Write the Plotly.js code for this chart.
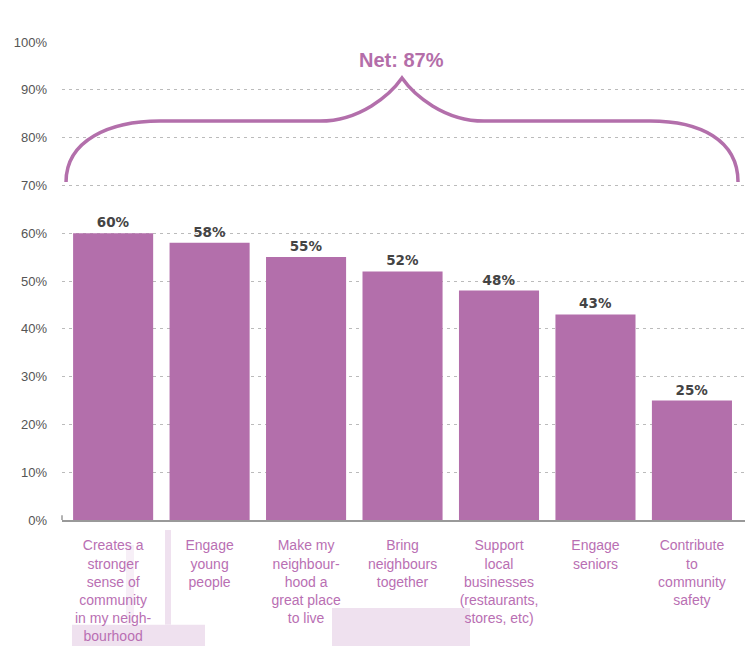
<!DOCTYPE html>
<html>
<head>
<meta charset="utf-8">
<script src="https://cdn.plot.ly/plotly-3.0.1.min.js"></script>
<style>html,body{margin:0;padding:0;background:#fff;}#chart{width:754px;height:646px;}</style>
</head>
<body>
<div id="chart"></div>
<script>
const categories = [
  "Creates a<br>stronger<br>sense of<br>community<br>in my neigh-<br>bourhood",
  "Engage<br>young<br>people",
  "Make my<br>neighbour-<br>hood a<br>great place<br>to live",
  "Bring<br>neighbours<br>together",
  "Support<br>local<br>businesses<br>(restaurants,<br>stores, etc)",
  "Engage<br>seniors",
  "Contribute<br>to<br>community<br>safety"
];
const values = [60, 58, 55, 52, 48, 43, 25];
const netLabel = "Net: 87%";
const yTicks = [0, 10, 20, 30, 40, 50, 60, 70, 80, 90, 100];

const purple = "#b36fab";

const trace = {
  type: "bar",
  x: categories,
  y: values,
  marker: {color: purple},
  text: values.map(v => v + "%"),
  textposition: "outside",
  cliponaxis: false,
  textfont: {family: "DejaVu Sans", size: 13.5, color: "#444", weight: "bold"},
  hoverinfo: "skip"
};

const bracePath = "M 0.0059,70.7 C 0.0059,79.5 0.0703,83.47 0.1435,83.47 " +
  "L 0.3777,83.47 C 0.4363,83.47 0.4802,88.9 0.4978,92.47 " +
  "C 0.5154,88.9 0.5593,83.47 0.6179,83.47 " +
  "L 0.8609,83.47 C 0.9341,83.47 0.9898,79.5 0.9898,70.7";

const layout = {
  width: 754, height: 646,
  margin: {l: 62, r: 9, t: 42, b: 126},
  paper_bgcolor: "#fff", plot_bgcolor: "rgba(0,0,0,0)",
  showlegend: false,
  bargap: 0.17,
  font: {family: "Liberation Sans, Arial, sans-serif"},
  xaxis: {
    type: "category",
    range: [-0.53, 6.55],
    showline: true, linecolor: "#999", linewidth: 1.5,
    showgrid: false, ticks: "",
    tickfont: {family: "Liberation Sans, Arial, sans-serif", size: 14, color: "#b96fb3"},
    ticklabelstandoff: 12,
    fixedrange: true
  },
  yaxis: {
    range: [0, 100],
    tickvals: yTicks,
    ticktext: yTicks.map(v => v + "%"),
    showgrid: true, gridcolor: "#bbb", gridwidth: 1, griddash: "3px,4px",
    zeroline: false, showline: false, ticks: "",
    ticklabelstandoff: 14,
    tickfont: {family: "Liberation Sans, Arial, sans-serif", size: 13, color: "#555"},
    fixedrange: true
  },
  shapes: [
    {type: "rect", xref: "paper", yref: "paper", x0: 0.0146, x1: 0.2094, y0: -0.2636, y1: -0.219, line: {width: 0}, fillcolor: "#efe1ef", layer: "below"},
    {type: "rect", xref: "paper", yref: "paper", x0: 0.1508, x1: 0.1596, y0: -0.219, y1: -0.021, line: {width: 0}, fillcolor: "#efe1ef", layer: "below"},
    {type: "rect", xref: "paper", yref: "paper", x0: 0.0937, x1: 0.1054, y0: -0.219, y1: -0.052, line: {width: 0}, fillcolor: "#f7eff7", layer: "below"},
    {type: "rect", xref: "paper", yref: "paper", x0: 0.3953, x1: 0.5974, y0: -0.2636, y1: -0.184, line: {width: 0}, fillcolor: "#efe1ef", layer: "below"},
    {type: "line", xref: "paper", yref: "y", x0: 0, x1: 0, y0: -1, y1: 1, line: {color: "#999", width: 1.5}},
    {type: "path", xref: "paper", yref: "y", path: bracePath, line: {color: purple, width: 3.5}}
  ],
  annotations: [
    {xref: "paper", yref: "y", x: 0.4978, y: 96.2, text: netLabel, showarrow: false,
     font: {family: "Liberation Sans, Arial, sans-serif", size: 20, color: "#b46ea9", weight: "bold"}}
  ]
};

Plotly.newPlot("chart", [trace], layout, {displayModeBar: false, staticPlot: true});
</script>
</body>
</html>
